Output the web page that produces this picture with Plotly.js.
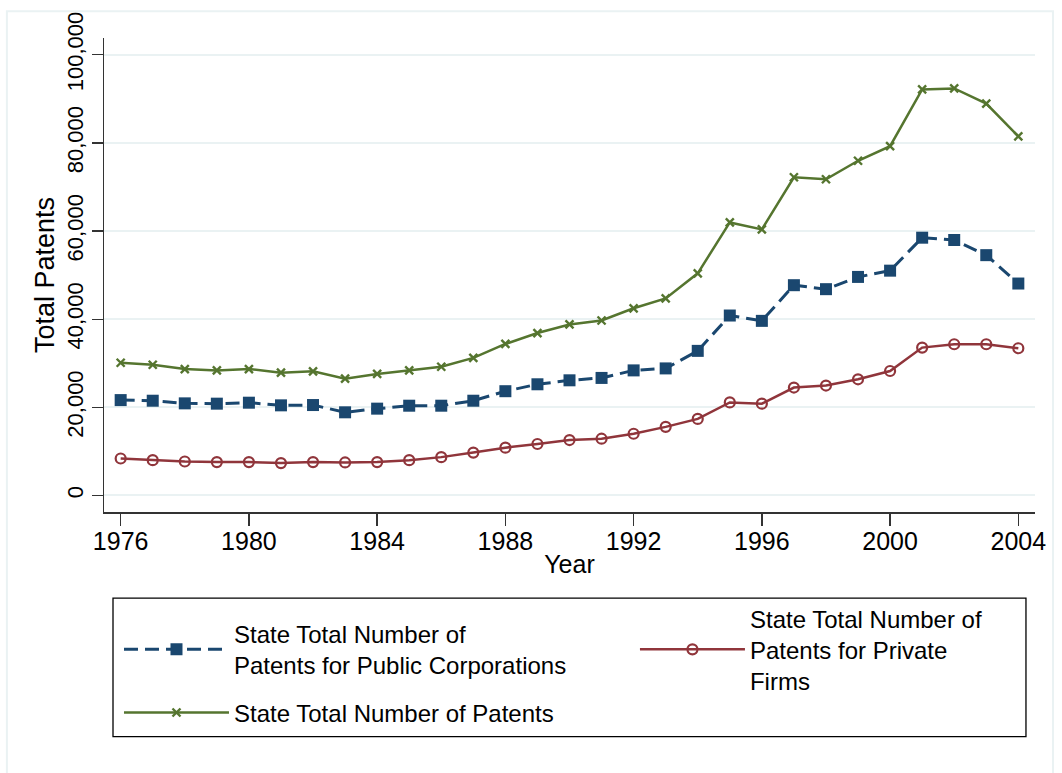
<!DOCTYPE html>
<html>
<head>
<meta charset="utf-8">
<script src="https://cdn.plot.ly/plotly-3.0.1.min.js"></script>
<style>
  html, body { margin: 0; padding: 0; background: #ffffff; }
  #chart { width: 1062px; height: 773px; }
</style>
</head>
<body>
<div id="chart"></div>
<script>
// ---- data ----
var years = [1976, 1977, 1978, 1979, 1980, 1981, 1982, 1983, 1984, 1985,
             1986, 1987, 1988, 1989, 1990, 1991, 1992, 1993, 1994, 1995,
             1996, 1997, 1998, 1999, 2000, 2001, 2002, 2003, 2004];

var publicCorp = [21640, 21500, 20900, 20830, 21050, 20450, 20520, 18870, 19700, 20370,
                  20370, 21500, 23660, 25230, 26130, 26670, 28380, 28830, 32810, 40830,
                  39620, 47710, 46810, 49590, 51010, 58490, 57970, 54530, 48090];

var privateFirms = [8390, 8020, 7710, 7570, 7570, 7340, 7570, 7490, 7570, 8020,
                    8700, 9730, 10850, 11680, 12580, 12880, 14000, 15570, 17370, 21120,
                    20830, 24490, 24940, 26360, 28240, 33550, 34310, 34310, 33410];

var totalPatents = [30110, 29660, 28690, 28380, 28690, 27860, 28160, 26510, 27570, 28380,
                    29210, 31230, 34380, 36850, 38800, 39700, 42470, 44720, 50400, 61950,
                    60370, 72200, 71750, 75950, 79250, 92130, 92350, 88910, 81500];

var seriesNames = [
  "State Total Number of<br>Patents for Public Corporations",
  "State Total Number of<br>Patents for Private<br>Firms",
  "State Total Number of Patents"
];

var xTickVals = [1976, 1980, 1984, 1988, 1992, 1996, 2000, 2004];
var yTickVals = [0, 20000, 40000, 60000, 80000, 100000];
var yTickText = ["0", "20,000", "40,000", "60,000", "80,000", "100,000"];

// ---- styles ----
var navy = "#1a476f";
var maroon = "#90353b";
var green = "#55752f";
var grid = "#eaf2f3";
var FONT = "Liberation Sans, Arial, Helvetica, sans-serif";

var traces = [
  {
    x: years, y: publicCorp, name: seriesNames[0],
    type: "scatter", mode: "lines+markers", legend: "legend",
    line: { color: navy, width: 3, dash: "14px,7px" },
    marker: { symbol: "square", size: 12, color: navy }
  },
  {
    x: years, y: privateFirms, name: seriesNames[1],
    type: "scatter", mode: "lines+markers", legend: "legend2",
    line: { color: maroon, width: 2.5 },
    marker: { symbol: "circle-open", size: 10, color: maroon, line: { color: maroon, width: 2.2 } }
  },
  {
    x: years, y: totalPatents, name: seriesNames[2],
    type: "scatter", mode: "lines+markers", legend: "legend3",
    line: { color: green, width: 2.5 },
    marker: { symbol: "x-thin", size: 8, color: green, line: { color: green, width: 2.4 } }
  }
];

function legendBox(x, y) {
  return {
    orientation: "v",
    x: x, xanchor: "left",
    y: y, yanchor: "middle",
    borderwidth: 0,
    bgcolor: "rgba(0,0,0,0)",
    valign: "middle",
    itemwidth: 105,
    font: { family: FONT, size: 24, color: "#000000" }
  };
}

var layout = {
  width: 1062,
  height: 773,
  paper_bgcolor: "#ffffff",
  plot_bgcolor: "#ffffff",
  font: { family: FONT, color: "#000000", size: 20 },
  margin: { l: 104, r: 27, t: 33, b: 261 },
  showlegend: true,
  xaxis: {
    range: [1975.48, 2004.52],
    tickvals: xTickVals,
    ticktext: xTickVals.map(String),
    ticks: "outside",
    ticklen: 12,
    tickwidth: 1.3,
    tickcolor: "#333333",
    ticklabelstandoff: -6,
    showline: true,
    linecolor: "#333333",
    linewidth: 1.5,
    showgrid: false,
    zeroline: false,
    tickfont: { family: FONT, size: 25, color: "#000000" },
    title: { text: "Year", font: { family: FONT, size: 25, color: "#000000" }, standoff: 2 }
  },
  yaxis: {
    range: [-3750, 103800],
    tickvals: yTickVals,
    ticktext: yTickText,
    tickangle: -90,
    ticks: "outside",
    ticklen: 11,
    tickwidth: 1.3,
    tickcolor: "#333333",
    showline: true,
    linecolor: "#333333",
    linewidth: 1.5,
    showgrid: true,
    gridcolor: grid,
    gridwidth: 2,
    zeroline: false,
    automargin: true,
    tickfont: { family: FONT, size: 22, color: "#000000" },
    title: { text: "Total Patents", font: { family: FONT, size: 27, color: "#000000" }, standoff: 0 }
  },
  legend: legendBox(0.0161, -0.2902),
  legend2: legendBox(0.5703, -0.2902),
  legend3: legendBox(0.0161, -0.4238),
  shapes: [
    {
      type: "rect", xref: "paper", yref: "paper",
      x0: -0.1043, x1: 1.0193, y0: -0.5532, y1: 1.0564,
      line: { color: grid, width: 2 }, fillcolor: "rgba(0,0,0,0)", layer: "below"
    },
    {
      type: "rect", xref: "paper", yref: "paper",
      x0: 0.00967, x1: 0.9903, y0: -0.4739, y1: -0.1816,
      line: { color: "#000000", width: 1.3 }, fillcolor: "rgba(0,0,0,0)", layer: "below"
    }
  ]
};

Plotly.newPlot("chart", traces, layout, { displayModeBar: false, staticPlot: true });
</script>
</body>
</html>
